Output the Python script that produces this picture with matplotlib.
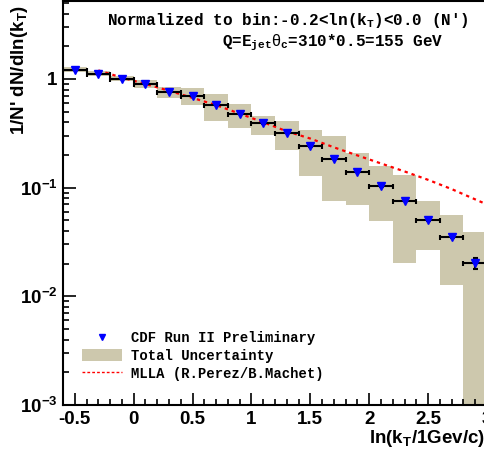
import matplotlib
matplotlib.use("Agg")
import matplotlib.pyplot as plt
from matplotlib.patches import Patch
from matplotlib.lines import Line2D
from matplotlib.ticker import FixedLocator, FuncFormatter, LogLocator, MultipleLocator, NullFormatter

plt.rcParams["font.family"] = ["Liberation Sans", "DejaVu Sans"]
plt.rcParams["axes.unicode_minus"] = False
plt.rcParams["mathtext.fontset"] = "custom"
plt.rcParams["mathtext.rm"] = "Liberation Sans"
plt.rcParams["mathtext.bf"] = "Liberation Sans:bold"
plt.rcParams["mathtext.it"] = "Liberation Sans:italic"
plt.rcParams["mathtext.tt"] = "Liberation Mono:bold"

# bins of ln(kT), width 0.2
kt_centers = [-0.5, -0.3, -0.1, 0.1, 0.3, 0.5, 0.7, 0.9, 1.1, 1.3, 1.5, 1.7, 1.9, 2.1, 2.3, 2.5, 2.7, 2.9]
bin_half = 0.1

# CDF data points (normalized)
cdf_vals = [1.21, 1.11, 1.00, 0.90, 0.76, 0.70, 0.575, 0.48, 0.39, 0.32, 0.24, 0.185,
            0.139, 0.1035, 0.076, 0.050, 0.0348, 0.0201]
stat_rel = [0.005, 0.005, 0.005, 0.005, 0.005, 0.005, 0.005, 0.005, 0.005, 0.005, 0.006,
            0.007, 0.008, 0.01, 0.012, 0.015, 0.02, 0.12]

# total uncertainty band (upper / lower edges)
band_hi = [1.28, 1.18, 1.06, 0.985, 0.845, 0.83, 0.73, 0.59, 0.458, 0.412, 0.34, 0.296,
           0.208, 0.157, 0.1315, 0.0748, 0.0565, 0.0392]
band_lo = [1.15, 1.06, 0.96, 0.83, 0.67, 0.58, 0.414, 0.357, 0.302, 0.22, 0.127, 0.0748,
           0.0698, 0.0498, 0.0201, 0.0266, 0.0126, 1e-4]

# MLLA prediction
mlla_x = [-0.3, -0.1, 0.1, 0.3, 0.5, 0.7, 0.9, 1.1, 1.3, 1.5, 1.7, 1.9, 2.1, 2.3, 2.5, 2.7, 2.9, 3.0]
mlla_y = [1.20, 1.03, 0.90, 0.78, 0.67, 0.575, 0.48, 0.40, 0.33, 0.283, 0.235, 0.198,
          0.167, 0.141, 0.118, 0.097, 0.078, 0.070]

band_color = "#CDC8AD"
mono = ["Liberation Mono", "DejaVu Sans Mono"]

fig = plt.figure(figsize=(4.85, 4.5), dpi=100)
ax = fig.add_axes([63 / 485, 45 / 450, 424 / 485, 404 / 450])

# uncertainty boxes
heights = [h - l for h, l in zip(band_hi, band_lo)]
ax.bar(kt_centers, heights, bottom=band_lo, width=2 * bin_half, color=band_color,
       linewidth=0, zorder=1)

# MLLA curve
ax.plot(mlla_x, mlla_y, color="red", lw=1.6, ls=(0, (1.5, 1.8)), zorder=2)

# data with error bars
yerr = [v * r for v, r in zip(cdf_vals, stat_rel)]
ax.errorbar(kt_centers, cdf_vals, xerr=bin_half, yerr=yerr, fmt="none", ecolor="black",
            elinewidth=1.5, capsize=1.8, capthick=1.5, zorder=3)
ax.plot(kt_centers, cdf_vals, "v", color="blue", ms=6, mec="blue", zorder=4)

ax.set_yscale("log")
ax.set_xlim(-0.6, 3.0)
ax.set_ylim(1e-3, 5.22)

ax.xaxis.set_major_locator(MultipleLocator(0.5))
ax.xaxis.set_minor_locator(MultipleLocator(0.1))
ax.xaxis.set_major_formatter(FuncFormatter(lambda v, p: "%g" % v))

ylabels = {1e-3: r"$\mathbf{10^{-3}}$", 1e-2: r"$\mathbf{10^{-2}}$",
           1e-1: r"$\mathbf{10^{-1}}$", 1.0: r"$\mathbf{1}$"}
ax.yaxis.set_major_locator(FixedLocator(list(ylabels.keys())))
ax.yaxis.set_major_formatter(FuncFormatter(lambda v, p: ylabels.get(v, "")))
ax.yaxis.set_minor_locator(LogLocator(base=10, subs=range(2, 10), numticks=20))
ax.yaxis.set_minor_formatter(NullFormatter())

ax.tick_params(which="both", direction="in", top=False, right=False, width=1.2)
ax.tick_params(which="major", length=9, labelsize=13.5, pad=4)
ax.tick_params(which="minor", length=4.5)
for lab in ax.get_xticklabels() + ax.get_yticklabels():
    lab.set_fontweight("bold")
for s in ["left", "bottom", "top"]:
    ax.spines[s].set_linewidth(1.5)
ax.spines["right"].set_visible(False)

ax.set_ylabel(r"1/N' dN/dln(k$_{\mathbf{T}}$)", fontsize=13.5, fontweight="bold", loc="top")
ax.yaxis.set_label_coords(-0.078, 0.99)
ax.set_xlabel(r"ln(k$_{\mathbf{T}}$/1Gev/c)", fontsize=13.5, fontweight="bold", loc="right")
ax.xaxis.set_label_coords(422 / 424, -0.058)

fig.text(288 / 485, 1 - 20 / 450, r"Normalized to bin:-0.2<ln(k$_{\mathtt{T}}$)<0.0 (N')",
         family=mono, fontweight="bold", fontsize=11.5, ha="center", va="center")
fig.text(333 / 485, 1 - 43 / 450, r"Q=E$_{\mathtt{jet}}\mathrm{\theta}_{\mathtt{c}}$=310*0.5=155 GeV",
         family=mono, fontweight="bold", fontsize=11.5, ha="center", va="center")

handles = [Line2D([], [], ls="none", marker="v", color="blue", ms=4.5),
           Patch(facecolor=band_color, edgecolor="none"),
           Line2D([], [], color="red", lw=1.0, ls=(0, (2, 1.5)))]
labels = ["CDF Run II Preliminary", "Total Uncertainty", "MLLA (R.Perez/B.Machet)"]
ax.legend(handles, labels, loc="lower left", bbox_to_anchor=(0.045, 0.06), frameon=False,
          prop={"family": mono, "weight": "bold", "size": 10}, handlelength=2.9,
          handleheight=0.9, handletextpad=0.6, labelspacing=0.28, borderpad=0,
          borderaxespad=0)

fig.savefig("out.png", dpi=100)
